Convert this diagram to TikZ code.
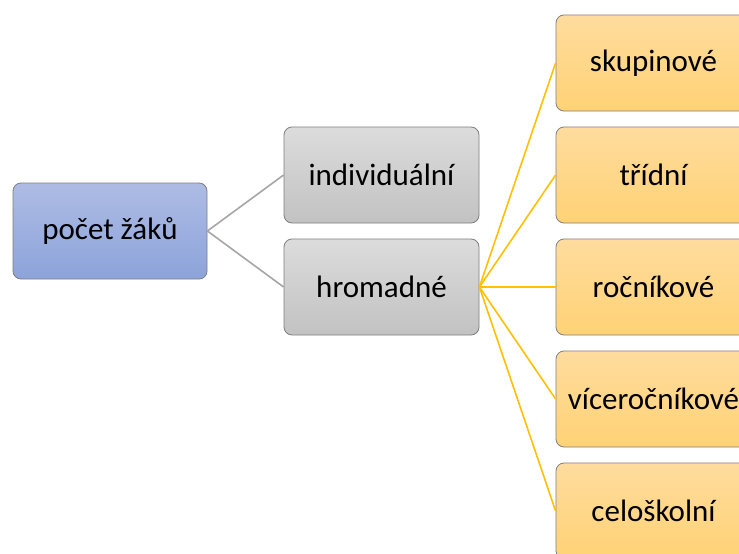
\documentclass[tikz,border=0pt]{standalone}
\usepackage{fontspec}
\setmainfont{Carlito}
\definecolor{blueTop}{HTML}{AEBCE4}
\definecolor{blueBot}{HTML}{8CA3DA}
\definecolor{grayTop}{HTML}{DCDCDC}
\definecolor{grayBot}{HTML}{C2C2C2}
\definecolor{goldTop}{HTML}{FFDC9E}
\definecolor{goldBot}{HTML}{FFD275}
\definecolor{boxLine}{HTML}{7F7F7F}
\definecolor{grayLink}{HTML}{A6A6A6}
\definecolor{goldLink}{HTML}{FFC000}
\tikzset{
  box/.style={draw=boxLine, line width=0.8pt, rounded corners=8pt,
    minimum width=195pt, minimum height=96pt, inner sep=0pt,
    font=\fontsize{31}{36}\selectfont, text=black},
  rootbox/.style={box, top color=blueTop, bottom color=blueBot},
  midbox/.style={box, top color=grayTop, bottom color=grayBot},
  leafbox/.style={box, top color=goldTop, bottom color=goldBot},
  graylink/.style={draw=grayLink, line width=1.6pt},
  goldlink/.style={draw=goldLink, line width=1.6pt},
}
\begin{document}
\begin{tikzpicture}[x=1pt,y=-1pt]
\useasboundingbox (0,0) rectangle (739,554);
\clip (0,0) rectangle (739,554);
\fill[white] (0,0) rectangle (739,554);

\node[rootbox, minimum width=194pt] (root) at (110,231) {počet žáků};
\node[midbox] (ind) at (381.5,175) {individuální};
\node[midbox] (hrom) at (381.5,287) {hromadné};

\node[leafbox] (sk) at (653.5,63) {skupinové};
\node[leafbox] (tr) at (653.5,175) {třídní};
\node[leafbox] (ro) at (653.5,287) {ročníkové};
\node[leafbox] (vi) at (653.5,399) {víceročníkové};
\node[leafbox] (ce) at (653.5,511) {celoškolní};

\draw[graylink] (root.east) -- (ind.west);
\draw[graylink] (root.east) -- (hrom.west);
\foreach \n in {sk,tr,ro,vi,ce}
  \draw[goldlink] (hrom.east) -- (\n.west);
\end{tikzpicture}
\end{document}
